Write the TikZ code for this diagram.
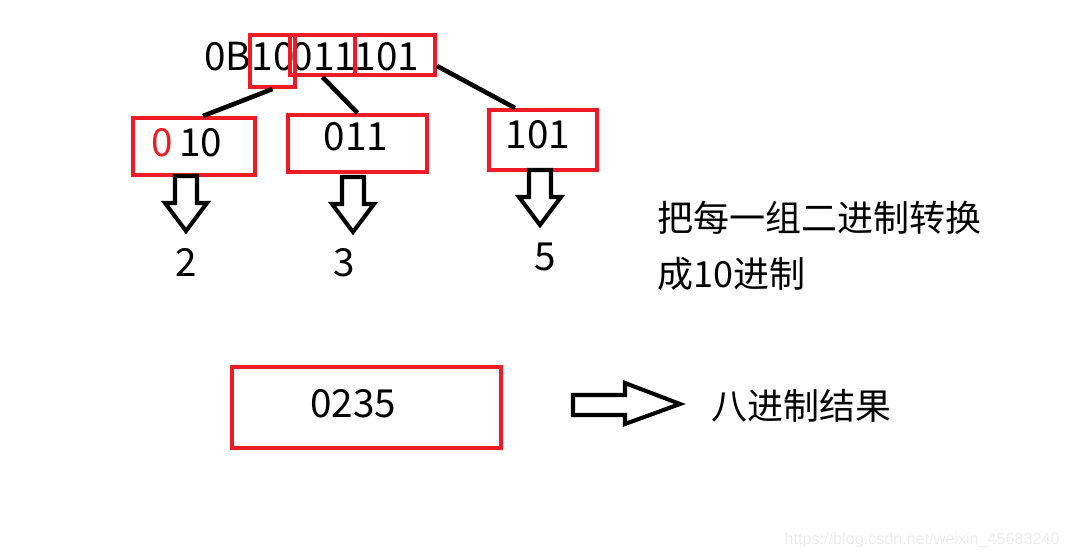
\documentclass[tikz,border=0pt]{standalone}
\usepackage{fontspec}
\setmainfont{Noto Sans CJK SC}
\newfontfamily\markfont{Liberation Sans}
\definecolor{paintred}{RGB}{237,28,36}
\tikzset{
	redbox/.style={rectangle, draw=paintred, line width=2.3pt, inner sep=0pt},
	digits/.style={font=\fontsize{22}{26}\selectfont, inner sep=0pt},
	hollow/.style={draw=black, line width=2.3pt, fill=white, line join=miter},
	link/.style={draw=black, line width=2.6pt}
}
\newcommand\hollowdown[1]{\draw[hollow] (#1) ++(-11,0) -- ++(0,27) -- ++(-10,0) -- ++(21,28) -- ++(21,-28) -- ++(-10,0) -- ++(0,-27) -- cycle;}
\begin{document}
\begin{tikzpicture}[x=0.02cm, y=-0.02cm]
	\useasboundingbox (0,0) rectangle (1069,558);
	\node[digits, anchor=base west] (pre) at (204,70) {0B};
	\node[digits, anchor=base] (p1) at (273,70) {10};
	\node[digits, anchor=base] (p2) at (324,70) {011};
	\node[digits, anchor=base] (p3) at (387,70) {101};
	\node[redbox, minimum width=0.9cm, minimum height=1.04cm] (g1) at (272.5,61) {};
	\node[redbox, minimum width=1.3cm, minimum height=0.8cm] (g2) at (322.5,55) {};
	\node[redbox, minimum width=1.6cm, minimum height=0.8cm] (g3) at (395,55) {};
	
	% groups of three
	\node[redbox, minimum width=2.44cm, minimum height=1.14cm] (a) at (194,146.5) {};
	\node[redbox, minimum width=2.78cm, minimum height=1.14cm] (b) at (357.5,143.5) {};
	\node[redbox, minimum width=2.16cm, minimum height=1.2cm] (c) at (543,140) {};
	\node[digits] (atxt) at (187,143) {\textcolor{paintred}{0}\,10};
	\node[digits] (btxt) at (356,137) {011};
	\node[digits] (ctxt) at (538,135) {101};
	
	% lines
	\draw[link] (g1.south) -- ([xshift=0.18cm]a.north);
	\draw[link] (g2.south) -- (b.north);
	\draw[link] ([yshift=-0.22cm]g3.east) -- ([xshift=-0.56cm]c.north);
	
	% arrows down
	\coordinate (d1) at (186,176);
	\coordinate (d2) at (353,177);
	\coordinate (d3) at (540,170);
	\hollowdown{d1}
	\hollowdown{d2}
	\hollowdown{d3}
	\node[digits] (n2) at (186,262) {2};
	\node[digits] (n3) at (344,263) {3};
	\node[digits] (n5) at (545,257) {5};
	
	\node[anchor=west, align=left, inner sep=0pt, font=\fontsize{20.5}{32}\selectfont] (note) at (657,246) {把每一组二进制转换\\成10进制};
	
	% result
	\node[redbox, minimum width=5.38cm, minimum height=1.62cm] (res) at (366.5,407.5) {};
	\node[digits] (restxt) at (353,404) {0235};
	\coordinate (r) at (573,395);
	\draw[hollow] (r) -- ++(52,0) -- ++(0,-12) -- ++(55,21) -- ++(-55,20) -- ++(0,-9) -- ++(-52,0) -- cycle;
	\node[anchor=west, inner sep=0pt, font=\fontsize{20.5}{24}\selectfont] (octal) at (711,406) {八进制结果};
	
	\node[anchor=east, inner sep=0pt, text=black!7, font=\markfont\fontsize{9.2}{11}\selectfont] (mark) at (1060,540) {https://blog.csdn.net/weixin\_45683240};
\end{tikzpicture}
\end{document}
